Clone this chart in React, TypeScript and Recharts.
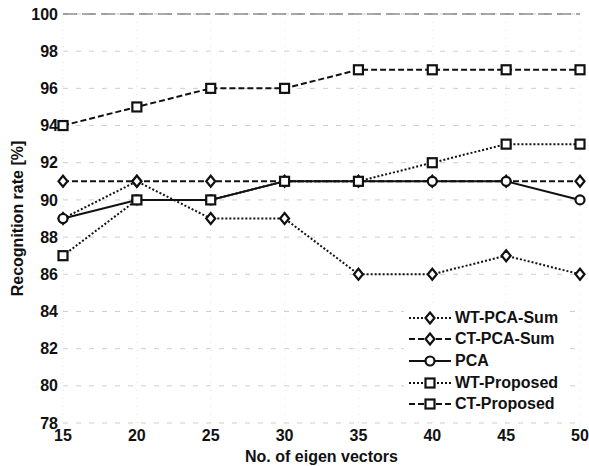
import React from 'react';
import { LineChart, Line, XAxis, YAxis, CartesianGrid, ReferenceLine } from 'recharts';

const eigenVectors = [15, 20, 25, 30, 35, 40, 45, 50];
const wtPcaSum = [89, 91, 89, 89, 86, 86, 87, 86];
const ctPcaSum = [91, 91, 91, 91, 91, 91, 91, 91];
const pca = [89, 90, 90, 91, 91, 91, 91, 90];
const wtProposed = [87, 90, 90, 91, 91, 92, 93, 93];
const ctProposed = [94, 95, 96, 96, 97, 97, 97, 97];
const xTicks = [15, 20, 25, 30, 35, 40, 45, 50];
const yTicks = [78, 80, 82, 84, 86, 88, 90, 92, 94, 96, 98, 100];

const data = eigenVectors.map((n, i) => ({
  n,
  wtPcaSum: wtPcaSum[i],
  ctPcaSum: ctPcaSum[i],
  pca: pca[i],
  wtProposed: wtProposed[i],
  ctProposed: ctProposed[i],
}));

const INK = '#111';
const FONT = '"Liberation Sans", Arial, sans-serif';

type Shape = 'diamond' | 'circle' | 'square';

const Marker = ({ cx, cy, shape }: { cx: number; cy: number; shape: Shape }) => {
  if (cx == null || cy == null) return null;
  if (shape === 'circle') return <circle cx={cx} cy={cy} r={4.5} fill="#fff" stroke={INK} strokeWidth={2.2} />;
  if (shape === 'square') return <rect x={cx - 4.5} y={cy - 4.5} width={9} height={9} fill="#fff" stroke={INK} strokeWidth={2.2} />;
  return <polygon points={`${cx},${cy - 5.5} ${cx + 4.5},${cy} ${cx},${cy + 5.5} ${cx - 4.5},${cy}`} fill="#fff" stroke={INK} strokeWidth={2.2} />;
};

const series = [
  { key: 'wtPcaSum', name: 'WT-PCA-Sum', dash: '2 2', shape: 'diamond' as Shape },
  { key: 'ctPcaSum', name: 'CT-PCA-Sum', dash: '6 3', shape: 'diamond' as Shape },
  { key: 'pca', name: 'PCA', dash: undefined, shape: 'circle' as Shape },
  { key: 'wtProposed', name: 'WT-Proposed', dash: '2 2', shape: 'square' as Shape },
  { key: 'ctProposed', name: 'CT-Proposed', dash: '6 3', shape: 'square' as Shape },
];

// legend drawn as an overlay so it doesn't shrink the plot area
const LegendBox = () => (
  <div style={{ position: 'absolute', left: 404, top: 306, background: '#fff', padding: '1px 4px 1px 4px', fontFamily: FONT, fontWeight: 'bold', fontSize: 16, color: INK }}>
    {series.map((s) => (
      <div key={s.key} style={{ display: 'flex', alignItems: 'center', height: 21.6 }}>
        <svg width={44} height={14} style={{ marginRight: 3 }}>
          <line x1={1} y1={7} x2={43} y2={7} stroke={INK} strokeWidth={2} strokeDasharray={s.dash} />
          <Marker cx={22} cy={7} shape={s.shape} />
        </svg>
        <span>{s.name}</span>
      </div>
    ))}
  </div>
);

export default function App() {
  return (
    <div style={{ position: 'absolute', left: 0, top: 0, width: 589, height: 466, background: '#fff' }}>
      <LineChart width={589} height={466} data={data} margin={{ top: 14, right: 9, left: 0, bottom: 0 }}>
        <CartesianGrid horizontal={false} stroke="#dcdcdc" strokeDasharray="1 7" />
        <CartesianGrid vertical={false} stroke="#cfcfcf" strokeDasharray="5 8" />
        <ReferenceLine y={100} stroke="#555" strokeDasharray="14 5" strokeWidth={1.2} />
        <XAxis
          dataKey="n"
          type="number"
          domain={[15, 50]}
          ticks={xTicks}
          axisLine={false}
          tickLine={false}
          tickSize={0}
          tickMargin={7}
          height={43}
          tick={{ fill: INK, fontSize: 16, fontWeight: 'bold', fontFamily: FONT }}
          label={{ value: 'No. of eigen vectors', position: 'insideBottom', offset: 4, fill: INK, fontSize: 16, fontWeight: 'bold', fontFamily: FONT }}
        />
        <YAxis
          type="number"
          domain={[78, 100]}
          ticks={yTicks}
          axisLine={false}
          tickLine={false}
          tickSize={0}
          tickMargin={5}
          width={63}
          interval={0}
          tick={{ fill: INK, fontSize: 16, fontWeight: 'bold', fontFamily: FONT }}
          label={{ value: 'Recognition rate [%]', angle: -90, position: 'insideLeft', offset: 17, style: { textAnchor: 'middle' }, fill: INK, fontSize: 16, fontWeight: 'bold', fontFamily: FONT }}
        />
        {series.map((s) => (
          <Line
            key={s.key}
            dataKey={s.key}
            name={s.name}
            stroke={INK}
            strokeWidth={2}
            strokeDasharray={s.dash}
            isAnimationActive={false}
            dot={(p: any) => <Marker key={`${s.key}-${p.index}`} cx={p.cx} cy={p.cy} shape={s.shape} />}
            activeDot={false}
          />
        ))}
      </LineChart>
      <LegendBox />
    </div>
  );
}
